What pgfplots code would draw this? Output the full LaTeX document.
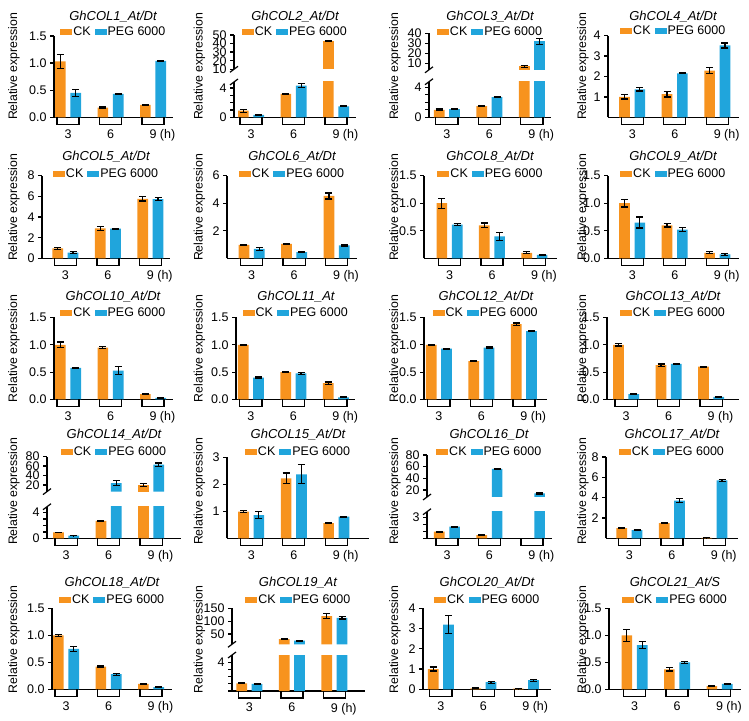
\documentclass[border=0pt]{standalone}
\usepackage{fontspec}
\setmainfont{Liberation Sans}
\usepackage{pgfplots}
\pgfplotsset{compat=1.18}
\definecolor{ckorange}{RGB}{247,147,30}
\definecolor{pegblue}{RGB}{32,165,220}
\newcommand\tickfont{\fontsize{12.5}{13}\selectfont}
\newcommand\legfont{\fontsize{12.5}{13}\selectfont}
\newcommand\titfont{\fontsize{13}{14}\selectfont\itshape}
\newcommand\ylfont{\fontsize{12.3}{13}\selectfont}
\pgfplotsset{
  base/.style={
    scale only axis, anchor=south west,
    axis lines=left,
    axis line style={-, line width=1.3pt},
    ytick style={black, line width=1.3pt},
    xtick style={draw=none},
    major tick length=4pt,
    tick align=outside,
    xtick={0,1,2}, xticklabels={3,6,{9\rlap{ (h)}}},
    tick label style={font=\tickfont},
    xticklabel style={yshift=-4.5pt},
    /pgf/number format/assume math mode=true,
    ymin=0,
    clip mode=individual,
    legend columns=2,
    legend entries={CK,PEG 6000},
    legend style={draw=none, fill=none, font=\legfont, anchor=center, inner sep=0pt,
      nodes={inner sep=1pt}, /tikz/every even column/.append style={column sep=3pt}},
  },
  upper/.style={
    scale only axis, anchor=south west,
    axis x line=none, axis y line=left,
    axis line style={-, line width=1.3pt},
    ytick style={black, line width=1.3pt},
    major tick length=4pt,
    tick align=outside,
    xtick=\empty,
    tick label style={font=\tickfont},
    /pgf/number format/assume math mode=true,
    clip mode=individual,
  },
  errs/.style={error bars/.cd, y dir=both, y explicit,
    error bar style={line width=1.2pt, black},
    error mark options={rotate=90, mark size=3.5pt, line width=1.2pt, black}},
  ckbar/.style={ybar, bar width=10.7pt, bar shift=0pt, fill=ckorange, draw=none,
    legend image code/.code={\fill[ckorange] (0pt,-3pt) rectangle (12pt,3pt);}, errs},
  pegbar/.style={ybar, bar width=10.7pt, bar shift=0pt, fill=pegblue, draw=none,
    legend image code/.code={\fill[pegblue] (0pt,-3pt) rectangle (12pt,3pt);}, errs},
}
\newcommand\CK[6]{\addplot[ckbar] coordinates {(-0.18,#1) +- (0,#2) (0.82,#3) +- (0,#4) (1.82,#5) +- (0,#6)};}
\newcommand\PEG[6]{\addplot[pegbar] coordinates {(0.18,#1) +- (0,#2) (1.18,#3) +- (0,#4) (2.18,#5) +- (0,#6)};}
\newcommand\brk{\pgfplotsinvokeforeach{0,1,2}{\draw[line width=1.3pt] (axis cs:##1-0.26,0) -- ++(0pt,-7pt) -| (axis cs:##1+0.26,0);}}
\newcommand\brktop{\draw[line width=1.2pt] (rel axis cs:0,1) ++(-4pt,-3pt) -- ++(8pt,6pt);}
\newcommand\brkbot{\draw[line width=1.2pt] (rel axis cs:0,0) ++(-4pt,-3pt) -- ++(8pt,6pt);}
\newcommand\ttl[3]{\node[font=\titfont] at (#1pt,#2pt) {#3};}
\newcommand\yl[2]{\node[font=\ylfont, rotate=90] at (#1pt,#2pt) {Relative expression};}
\begin{document}
\begin{tikzpicture}
\useasboundingbox (0pt,0pt) rectangle (749pt,720pt);
% ---------------- Row 1 ----------------
\begin{axis}[base, at={(54pt,602.7pt)}, width=118.6pt, height=81.3pt, xmin=-0.33, xmax=2.46, ymax=1.5,
  ytick={0,0.5,1,1.5}, yticklabels={0.0,0.5,1.0,1.5}, legend style={at={(0.5,1.053)}}]
\CK{1.03}{0.13}{0.18}{0.01}{0.23}{0.01}
\PEG{0.45}{0.07}{0.43}{0.01}{1.04}{0.01}
\brk
\end{axis}
% P2 broken
\begin{axis}[base, at={(234pt,602.7pt)}, width=121.6pt, height=35.3pt, xmin=-0.40, xmax=2.46, ymax=4.8,
  ytick={0,1,2,3,4}, yticklabels={0,,,,4}, legend style={at={(0.5,2.425)}}]
\CK{0.9}{0.2}{3.2}{0.05}{43}{0.5}
\PEG{0.32}{0.05}{4.3}{0.25}{1.5}{0.05}
\brk \brktop
\end{axis}
\begin{axis}[upper, at={(234pt,650.7pt)}, width=121.6pt, height=34.3pt, xmin=-0.40, xmax=2.46, ymin=10, ymax=50,
  ytick={10,20,30,40,50}, yticklabels={10,20,30,40,50}]
\addplot[ckbar] coordinates {(1.82,43) +- (0,0.5)};
\brkbot
\end{axis}
% P3 broken
\begin{axis}[base, at={(429pt,602.7pt)}, width=122pt, height=35.6pt, xmin=-0.42, xmax=2.45, ymax=4.75,
  ytick={0,1,2,3,4}, yticklabels={0,,,,4}, legend style={at={(0.5,2.404)}}]
\CK{1.0}{0.1}{1.5}{0.08}{6.8}{1.2}
\PEG{1.1}{0.05}{2.7}{0.1}{32}{3}
\brk \brktop
\end{axis}
\begin{axis}[upper, at={(429pt,650.2pt)}, width=122pt, height=36.5pt, xmin=-0.42, xmax=2.45, ymin=3.5, ymax=40,
  ytick={10,20,30,40}, yticklabels={10,20,30,40}]
\addplot[ckbar] coordinates {(1.82,6.8) +- (0,1.2)};
\addplot[pegbar] coordinates {(2.18,32) +- (0,3)};
\brkbot
\end{axis}
% P4
\begin{axis}[base, at={(608pt,602.7pt)}, width=130.5pt, height=81.6pt, xmin=-0.57, xmax=2.5, ymax=4,
  ytick={1,2,3,4}, yticklabels={1,2,3,4}, legend style={at={(0.5,1.053)}}]
\CK{1.0}{0.1}{1.13}{0.14}{2.29}{0.16}
\PEG{1.37}{0.08}{2.15}{0.02}{3.52}{0.12}
\brk
\end{axis}
% ---------------- Row 2 ----------------
\begin{axis}[base, at={(42pt,461.7pt)}, width=128pt, height=82.6pt, xmin=-0.55, xmax=2.46, ymax=8,
  ytick={0,2,4,6,8}, yticklabels={0,2,4,6,8}, legend style={at={(0.5,1.017)}}]
\CK{0.97}{0.1}{2.9}{0.2}{5.75}{0.2}
\PEG{0.55}{0.08}{2.87}{0.03}{5.72}{0.15}
\brk
\end{axis}
\begin{axis}[base, at={(227pt,461.7pt)}, width=130pt, height=82.6pt, xmin=-0.58, xmax=2.48, ymax=6,
  ytick={2,4,6}, yticklabels={2,4,6}, legend style={at={(0.5,1.017)}}]
\CK{0.97}{0.04}{1.04}{0.05}{4.53}{0.22}
\PEG{0.68}{0.1}{0.44}{0.04}{0.94}{0.04}
\brk
\end{axis}
\begin{axis}[base, at={(424pt,461.7pt)}, width=133pt, height=82.6pt, xmin=-0.6, xmax=2.53, ymax=1.5,
  ytick={0.5,1,1.5}, yticklabels={0.5,1.0,1.5}, legend style={at={(0.5,1.017)}}]
\CK{1.0}{0.09}{0.6}{0.04}{0.1}{0.02}
\PEG{0.61}{0.02}{0.4}{0.07}{0.06}{0.01}
\brk
\end{axis}
\begin{axis}[base, at={(608pt,461.7pt)}, width=130.5pt, height=82.6pt, xmin=-0.57, xmax=2.5, ymax=1.5,
  ytick={0,0.5,1,1.5}, yticklabels={0.0,0.5,1.0,1.5}, legend style={at={(0.5,1.017)}}]
\CK{1.0}{0.07}{0.6}{0.03}{0.1}{0.02}
\PEG{0.65}{0.1}{0.52}{0.04}{0.07}{0.02}
\brk
\end{axis}
% ---------------- Row 3 ----------------
\begin{axis}[base, at={(54pt,320.5pt)}, width=118.6pt, height=82pt, xmin=-0.33, xmax=2.46, ymax=1.5,
  ytick={0,0.5,1,1.5}, yticklabels={0.0,0.5,1.0,1.5}, legend style={at={(0.5,1.055)}}]
\CK{1.0}{0.05}{0.95}{0.02}{0.1}{0.01}
\PEG{0.58}{0.01}{0.53}{0.08}{0.03}{0.01}
\brk
\end{axis}
\begin{axis}[base, at={(236pt,320.5pt)}, width=119.4pt, height=82pt, xmin=-0.35, xmax=2.46, ymax=1.5,
  ytick={0,0.5,1,1.5}, yticklabels={0.0,0.5,1.0,1.5}, legend style={at={(0.5,1.055)}}]
\CK{1.0}{0.01}{0.5}{0.01}{0.3}{0.02}
\PEG{0.4}{0.01}{0.48}{0.02}{0.04}{0.01}
\brk
\end{axis}
\begin{axis}[base, at={(424pt,320.5pt)}, width=123.3pt, height=82pt, xmin=-0.35, xmax=2.55, ymax=1.5,
  ytick={0,0.5,1,1.5}, yticklabels={0.0,0.5,1.0,1.5}, legend style={at={(0.5,1.055)}}]
\CK{1.0}{0.01}{0.7}{0.01}{1.38}{0.02}
\PEG{0.93}{0.01}{0.95}{0.01}{1.25}{0.01}
\brk
\end{axis}
\begin{axis}[base, at={(607pt,320.5pt)}, width=131.8pt, height=82pt, xmin=-0.45, xmax=2.65, ymax=1.5,
  ytick={0,0.5,1,1.5}, yticklabels={0.0,0.5,1.0,1.5}, legend style={at={(0.5,1.055)}}]
\CK{1.0}{0.02}{0.63}{0.02}{0.6}{0.01}
\PEG{0.1}{0.01}{0.65}{0.01}{0.05}{0.01}
\brk
\end{axis}
% ---------------- Row 4 ----------------
\begin{axis}[base, at={(47pt,181.7pt)}, width=133.9pt, height=31.6pt, xmin=-0.45, xmax=2.7, ymax=4.9,
  ytick={0,1,2,3,4}, yticklabels={0,,,,4}, legend style={at={(0.5,2.74)}}]
\CK{0.9}{0.05}{2.7}{0.05}{20}{2.5}
\PEG{0.4}{0.02}{24}{5}{63}{3.5}
\brk \brktop
\end{axis}
\begin{axis}[upper, at={(47pt,228.4pt)}, width=133.9pt, height=34.9pt, xmin=-0.45, xmax=2.7, ymin=6, ymax=80,
  ytick={20,40,60,80}, yticklabels={20,40,60,80}]
\addplot[ckbar] coordinates {(1.82,20) +- (0,2.5)};
\addplot[pegbar] coordinates {(1.18,24) +- (0,5) (2.18,63) +- (0,3.5)};
\brkbot
\end{axis}
\begin{axis}[base, at={(227pt,181.7pt)}, width=142pt, height=81pt, xmin=-0.57, xmax=2.77, ymax=3,
  ytick={1,2,3}, yticklabels={1,2,3}, legend style={at={(0.5,1.069)}}]
\CK{0.99}{0.03}{2.22}{0.2}{0.56}{0.02}
\PEG{0.86}{0.13}{2.37}{0.35}{0.8}{0.02}
\brk
\end{axis}
\begin{axis}[base, at={(427pt,181.7pt)}, width=124.5pt, height=26.6pt, xmin=-0.47, xmax=2.46, ymax=3.8,
  ytick={0,1,2,3}, yticklabels={,,,3}, legend style={at={(0.5,3.256)}}]
\addplot[ckbar] coordinates {(-0.18,0.95) +- (0,0.05) (0.82,0.47) +- (0,0.05)};
\PEG{1.66}{0.05}{56}{1.5}{14}{1}
\brk \brktop
\end{axis}
\begin{axis}[upper, at={(427pt,223pt)}, width=124.5pt, height=42pt, xmin=-0.47, xmax=2.46, ymin=8, ymax=80,
  ytick={20,40,60,80}, yticklabels={20,40,60,80}]
\addplot[pegbar] coordinates {(1.18,56) +- (0,1.5) (2.18,14) +- (0,1)};
\brkbot
\end{axis}
\begin{axis}[base, at={(606pt,181.7pt)}, width=131.8pt, height=81.3pt, xmin=-0.55, xmax=2.55, ymax=8,
  ytick={2,4,6,8}, yticklabels={2,4,6,8}, legend style={at={(0.5,1.065)}}]
\CK{1.0}{0.05}{1.5}{0.05}{0.05}{0.01}
\PEG{0.8}{0.05}{3.7}{0.2}{5.7}{0.1}
\brk
\end{axis}
% ---------------- Row 5 ----------------
\begin{axis}[base, at={(52pt,30.7pt)}, width=120.3pt, height=81pt, xmin=-0.33, xmax=2.5, ymax=1.5,
  ytick={0,0.5,1,1.5}, yticklabels={0.0,0.5,1.0,1.5}, legend style={at={(0.5,1.10)}}]
\CK{1.0}{0.02}{0.42}{0.01}{0.1}{0.01}
\PEG{0.75}{0.05}{0.28}{0.02}{0.04}{0.01}
\brk
\end{axis}
\begin{axis}[base, at={(232pt,29pt)}, width=132.6pt, height=36pt, xmin=-0.41, xmax=2.71, ymax=5,
  ytick={0,1,2,3,4}, yticklabels={,,,,4}, legend style={at={(0.5,2.53)}}]
\CK{1.05}{0.05}{30}{2}{120}{9}
\PEG{1.0}{0.05}{24}{1.5}{113}{5}
\brk \brktop
\end{axis}
\begin{axis}[upper, at={(232pt,75.7pt)}, width=132.6pt, height=36pt, xmin=-0.41, xmax=2.71, ymin=10, ymax=150,
  ytick={50,100,150}, yticklabels={50,100,150}]
\addplot[ckbar] coordinates {(0.82,30) +- (0,2) (1.82,120) +- (0,9)};
\addplot[pegbar] coordinates {(1.18,24) +- (0,1.5) (2.18,113) +- (0,5)};
\brkbot
\end{axis}
\begin{axis}[base, at={(423pt,30.7pt)}, width=128.4pt, height=81pt, xmin=-0.42, xmax=2.6, ymax=4,
  ytick={0,1,2,3,4}, yticklabels={0,1,2,3,4}, legend style={at={(0.5,1.10)}}]
\CK{1.0}{0.1}{0.05}{0.01}{0.03}{0.01}
\PEG{3.2}{0.45}{0.35}{0.05}{0.45}{0.05}
\brk
\end{axis}
\begin{axis}[base, at={(609pt,30.7pt)}, width=131.8pt, height=81pt, xmin=-0.6, xmax=2.5, ymax=1.5,
  ytick={0,0.5,1,1.5}, yticklabels={0.0,0.5,1.0,1.5}, legend style={at={(0.5,1.10)}}]
\CK{1.0}{0.11}{0.37}{0.03}{0.06}{0.01}
\PEG{0.82}{0.07}{0.5}{0.02}{0.1}{0.01}
\brk
\end{axis}
% ---------------- Titles ----------------
\ttl{113}{703.3}{GhCOL1\_At/Dt}
\ttl{295}{703.3}{GhCOL2\_At/Dt}
\ttl{490}{703.3}{GhCOL3\_At/Dt}
\ttl{673}{703.3}{GhCOL4\_At/Dt}
\ttl{106}{563.3}{GhCOL5\_At/Dt}
\ttl{292}{563.3}{GhCOL6\_At/Dt}
\ttl{490}{563.3}{GhCOL8\_At/Dt}
\ttl{673}{563.3}{GhCOL9\_At/Dt}
\ttl{113}{423}{GhCOL10\_At/Dt}
\ttl{296}{423}{GhCOL11\_At}
\ttl{486}{423}{GhCOL12\_At/Dt}
\ttl{673}{423}{GhCOL13\_At/Dt}
\ttl{114}{285}{GhCOL14\_At/Dt}
\ttl{298}{285}{GhCOL15\_At/Dt}
\ttl{489}{285}{GhCOL16\_Dt}
\ttl{672}{285}{GhCOL17\_At/Dt}
\ttl{112}{137.7}{GhCOL18\_At/Dt}
\ttl{298}{137.7}{GhCOL19\_At}
\ttl{487}{137.7}{GhCOL20\_At/Dt}
\ttl{675}{137.7}{GhCOL21\_At/S}
% ---------------- Y labels ----------------
\foreach \yy in {653.7,512.7,371.5,228.7,80.5}{
  \yl{14}{\yy}\yl{199.5}{\yy}\yl{395}{\yy}\yl{583}{\yy}
}
\end{tikzpicture}
\end{document}
